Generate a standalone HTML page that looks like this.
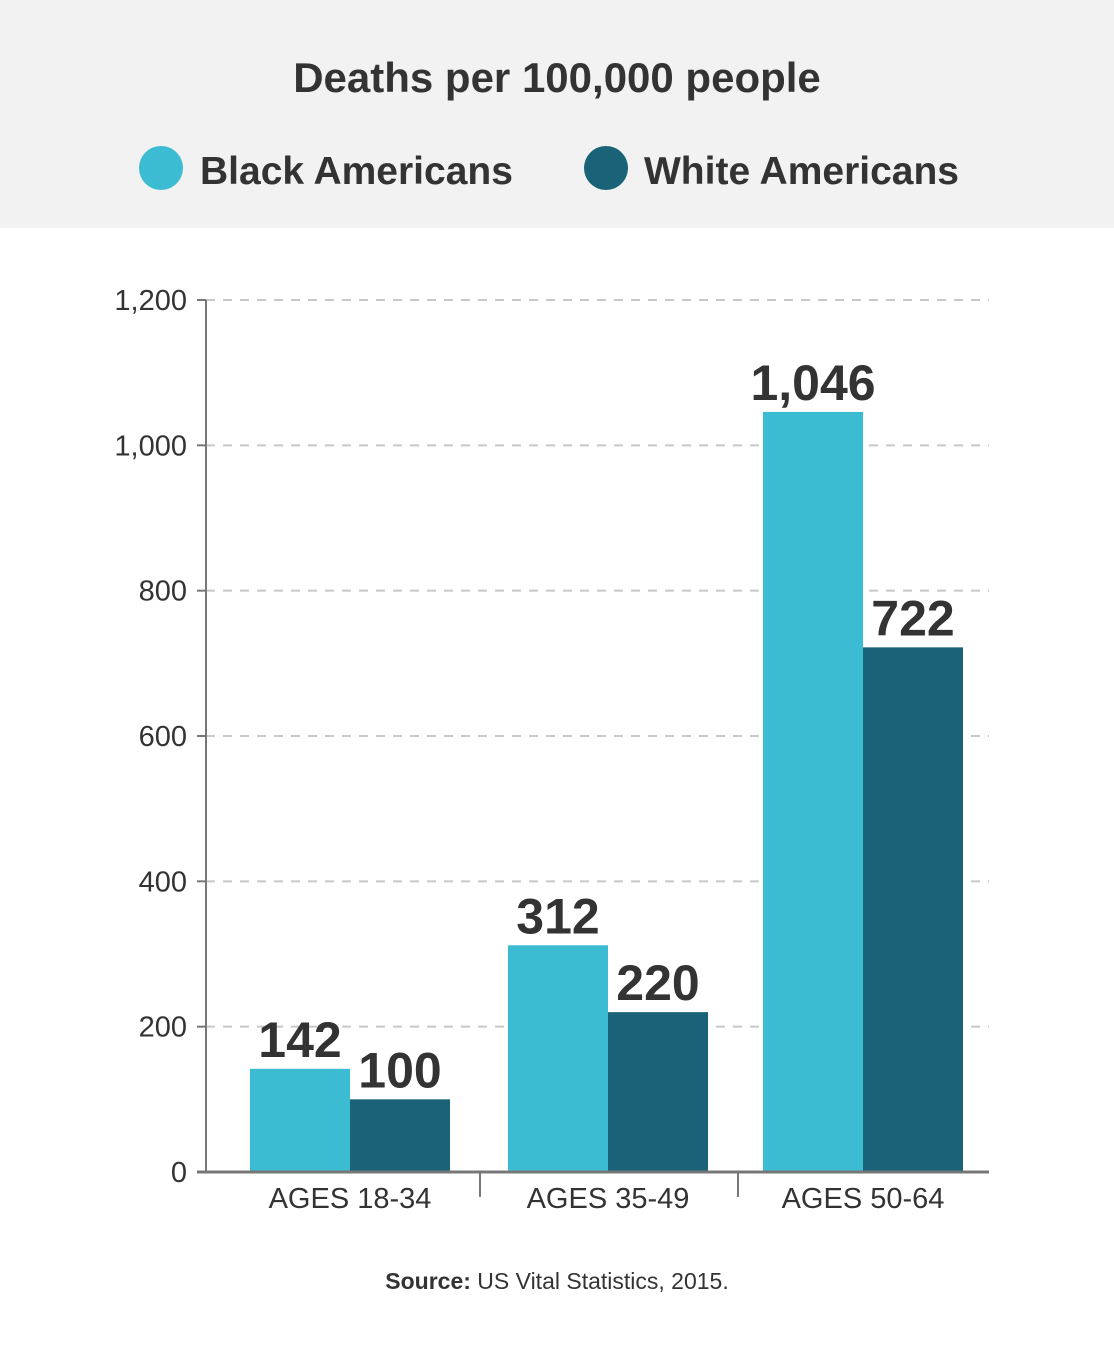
<!DOCTYPE html>
<html><head><meta charset="utf-8"><style>
body{margin:0;width:1114px;height:1347px;background:#fff;overflow:hidden;font-family:"Liberation Sans",sans-serif}
svg{display:block}
</style></head><body>
<svg id="chart" width="1114" height="1347">
<rect x="0" y="0" width="1114" height="228" fill="#f2f2f2"/>
<text x="557" y="92" text-anchor="middle" font-size="42" font-weight="bold" fill="#333">Deaths per 100,000 people</text>
<g>
<circle cx="161" cy="168" r="22" fill="#3bbcd3"/>
<text x="200" y="184" font-size="39" font-weight="bold" fill="#333">Black Americans</text>
</g>
<g>
<circle cx="606" cy="168" r="22" fill="#1a6278"/>
<text x="644" y="184" font-size="39" font-weight="bold" fill="#333">White Americans</text>
</g>
<g id="plot"></g>
<text x="557" y="1289" text-anchor="middle" font-size="23" fill="#333"><tspan font-weight="bold">Source:</tspan> US Vital Statistics, 2015.</text>
</svg>
<script>
const categories = ["AGES 18-34", "AGES 35-49", "AGES 50-64"];
const blackValues = [142, 312, 1046];
const whiteValues = [100, 220, 722];
const valueLabels = [["142","100"],["312","220"],["1,046","722"]];
const yTicks = [0, 200, 400, 600, 800, 1000, 1200];
const yTickLabels = ["0","200","400","600","800","1,000","1,200"];

const NS = "http://www.w3.org/2000/svg";
const g = document.getElementById("plot");
const x0 = 206, x1 = 989, yBase = 1172, yTop = 300, yMax = 1200;
const y = v => yBase - (v / yMax) * (yBase - yTop);
const groupStart = [250, 508, 763];
const barW = 100;
function mk(tag, attrs, text){const e=document.createElementNS(NS,tag);for(const k in attrs)e.setAttribute(k,attrs[k]);if(text!==undefined)e.textContent=text;g.appendChild(e);return e;}
const cond = '"Liberation Sans Narrow","Liberation Sans",sans-serif';

yTicks.forEach((t,i)=>{
  if(t>0){
    const l=mk("line",{x1:x0,x2:x1,y1:y(t),y2:y(t),stroke:"#c8c8c8","stroke-width":2,"stroke-dasharray":"9 8"});
    
    
  }
  const tk=mk("line",{x1:x0-9,x2:x0,y1:y(t),y2:y(t),stroke:"#777","stroke-width":2});
  
  
  const tl=mk("text",{x:187,y:y(t)+10,"text-anchor":"end","font-size":29,fill:"#333","font-family":cond},yTickLabels[i]);
  
  
});

categories.forEach((c,i)=>{
  const xb=groupStart[i];
  const b=mk("rect",{x:xb,y:y(blackValues[i]),width:barW,height:yBase-y(blackValues[i]),fill:"#3bbcd3"});
  
  
  const w=mk("rect",{x:xb+barW,y:y(whiteValues[i]),width:barW,height:yBase-y(whiteValues[i]),fill:"#1a6278"});
  
  
  const lb=mk("text",{x:xb+barW/2,y:y(blackValues[i])-12,"text-anchor":"middle","font-size":50,"font-weight":"bold",fill:"#333","font-family":cond},valueLabels[i][0]);
  
  
  const lw=mk("text",{x:xb+barW*1.5,y:y(whiteValues[i])-12,"text-anchor":"middle","font-size":50,"font-weight":"bold",fill:"#333","font-family":cond},valueLabels[i][1]);
  
  
  const cl=mk("text",{x:xb+barW,y:1208,"text-anchor":"middle","font-size":29,fill:"#333","font-family":cond},c);
  
  
});
[480,738].forEach(sx=>{
  const s=mk("line",{x1:sx,x2:sx,y1:yBase,y2:yBase+25,stroke:"#777","stroke-width":2});
  
  
});
const ya=mk("line",{x1:x0,x2:x0,y1:yTop,y2:yBase,stroke:"#777","stroke-width":2});


const xa=mk("line",{x1:x0-9,x2:x1,y1:yBase,y2:yBase,stroke:"#777","stroke-width":3});


</script>
</body></html>
